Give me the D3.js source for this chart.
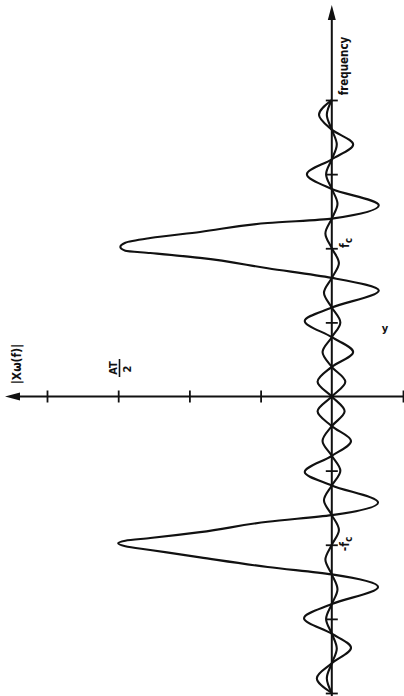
<!DOCTYPE html>
<html lang="en">
<head>
<meta charset="utf-8">
<title>|X(f)| of a windowed cosine</title>
<style>
  body { margin: 0; background: #fff; }
  .curve { fill: none; stroke: #111; stroke-width: 2.1; stroke-linejoin: round; }
  .axis-line { stroke: #111; stroke-width: 2; }
  .tick line { stroke: #111; stroke-width: 1.8; }
  .lbl { font-family: "DejaVu Sans Condensed", "DejaVu Sans", sans-serif; font-weight: bold; fill: #111; }
</style>
</head>
<body>
<div id="chart"></div>
<script src="https://cdn.jsdelivr.net/npm/d3@7"></script>
<script>
// frequency ticks in axis divisions (fc is the 2nd division)
var freqTicks = [-4, -3, -2, -1, 1, 2, 3, 4];
// amplitude ticks in divisions, AT/2 sits on the 3rd
var ampTicks = [-1, 1, 2, 3, 4];

// curve centred on +fc (zeros and lobe tops)
var posF = [4.0, 3.8, 3.6, 3.4, 3.2, 3.0, 2.8, 2.58, 2.4,
            2.34, 2.22, 2.138, 2.075, 2.017, 1.967, 1.936, 1.87, 1.73,
            1.6, 1.43, 1.2, 1.02, 0.8, 0.6, 0.4, 0.2, 0,
            -0.2, -0.4, -0.6, -0.8, -1.0, -1.2, -1.4, -1.6, -1.8, -2.0,
            -2.2, -2.4, -2.6, -2.8, -3.0, -3.2, -3.4, -3.6, -3.8, -4.0];
var posA = [0, 0.18, 0, -0.30, 0, 0.35, 0, -0.66, 0,
            0.9, 1.85, 2.55, 2.9, 2.97, 2.9, 2.55, 1.85, 0.9,
            0, -0.66, 0, 0.38, 0, -0.30, 0, 0.20, 0,
            -0.18, 0, 0.13, 0, -0.12, 0, 0.11, 0, -0.10, 0,
            0.09, 0, -0.08, 0, 0.08, 0, -0.07, 0, 0.07, 0];

// curve centred on -fc
var negF = [4.0, 3.8, 3.6, 3.4, 3.2, 3.0, 2.8, 2.6, 2.4, 2.2, 2.0,
            1.8, 1.6, 1.4, 1.2, 1.0, 0.8, 0.6, 0.4, 0.2, 0,
            -0.2, -0.4, -0.6, -0.8, -1.02, -1.2, -1.43, -1.6,
            -1.69, -1.83, -1.91, -1.945, -1.98, -2.02, -2.07, -2.17, -2.30,
            -2.4, -2.57, -2.8, -2.99, -3.2, -3.39, -3.6, -3.8, -4.0];
var negA = [0, 0.07, 0, -0.07, 0, 0.08, 0, -0.08, 0, 0.09, 0,
            -0.10, 0, 0.11, 0, -0.12, 0, 0.13, 0, -0.19, 0,
            0.20, 0, -0.27, 0, 0.38, 0, -0.65, 0,
            0.9, 1.85, 2.55, 2.9, 3.0, 2.9, 2.55, 1.85, 0.9,
            0, -0.65, 0, 0.39, 0, -0.27, 0, 0.21, 0];

var W = 404, H = 696;

var svg = d3.select("#chart").append("svg")
    .attr("width", W)
    .attr("height", H);

// the page is turned: frequency runs up, amplitude runs left
var y = d3.scaleLinear().domain([-4, 4]).range([693, 100]);
var x = d3.scaleLinear().domain([-1, 4]).range([403, 47]);

var x0 = x(0), y0 = y(0);

// axis lines
svg.append("line").attr("class", "axis-line")
    .attr("x1", x0).attr("x2", x0)
    .attr("y1", H).attr("y2", 16);
svg.append("line").attr("class", "axis-line")
    .attr("x1", 403).attr("x2", 16)
    .attr("y1", y0).attr("y2", y0);

// arrow heads
svg.append("path")
    .attr("d", "M" + x0 + ",5L" + (x0 - 4) + ",20L" + (x0 + 4) + ",20Z")
    .attr("fill", "#111");
svg.append("path")
    .attr("d", "M5," + y0 + "L20," + (y0 - 4) + "L20," + (y0 + 4) + "Z")
    .attr("fill", "#111");

// ticks crossing the axes
var fAxis = svg.append("g")
    .attr("transform", "translate(" + (x0 - 6) + ",0)")
    .call(d3.axisRight(y).tickValues(freqTicks).tickSize(12).tickFormat(""));
fAxis.select(".domain").remove();

var aAxis = svg.append("g")
    .attr("transform", "translate(0," + (y0 - 6) + ")")
    .call(d3.axisBottom(x).tickValues(ampTicks).tickSize(12).tickFormat(""));
aAxis.select(".domain").remove();

// curves
var line = d3.line()
    .x(function(d) { return x(d[1]); })
    .y(function(d) { return y(d[0]); })
    .curve(d3.curveMonotoneY);

svg.append("path").attr("class", "curve")
    .datum(d3.zip(posF, posA))
    .attr("d", line);
svg.append("path").attr("class", "curve")
    .datum(d3.zip(negF, negA))
    .attr("d", line);

// labels, written along the turned page
function rotLabel(px, py, size) {
    return svg.append("text")
        .attr("class", "lbl")
        .attr("font-size", size)
        .attr("text-anchor", "middle")
        .attr("transform", "translate(" + px + "," + py + ") rotate(-90)");
}

rotLabel(348, 66, 11.5).text("frequency");
rotLabel(21, 364, 12).text("|Xω(f)|");

// AT over 2
rotLabel(117, 368, 11).text("AT");
svg.append("line")
    .attr("x1", 119.5).attr("x2", 119.5)
    .attr("y1", 359).attr("y2", 377)
    .attr("stroke", "#111").attr("stroke-width", 1.6);
rotLabel(131, 369, 11).text("2");

var fcLbl = rotLabel(349, 243, 12);
fcLbl.append("tspan").text("f");
fcLbl.append("tspan").attr("dy", 3).attr("font-size", 10).text("c");

var nfcLbl = rotLabel(349, 544, 12);
nfcLbl.append("tspan").text("-f");
nfcLbl.append("tspan").attr("dy", 3).attr("font-size", 10).text("c");

// stray mark on the scan
svg.append("text").attr("class", "lbl")
    .attr("font-size", 11)
    .attr("x", 385).attr("y", 332)
    .attr("text-anchor", "middle")
    .text("y");
</script>
</body>
</html>
